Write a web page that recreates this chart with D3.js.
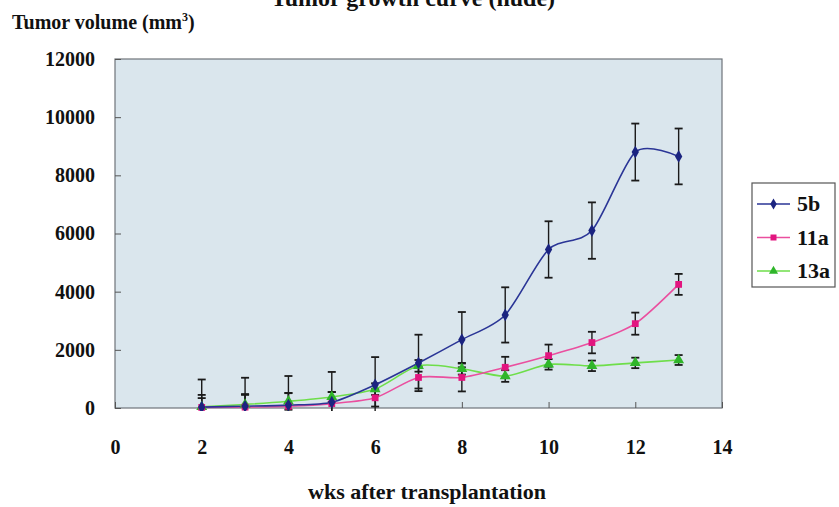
<!DOCTYPE html>
<html>
<head>
<meta charset="utf-8">
<script src="https://cdn.jsdelivr.net/npm/d3@7"></script>
<style>
  body { margin: 0; background: #fff; }
  text { font-family: "Liberation Serif", "Times New Roman", serif; font-weight: bold; fill: #111; }
</style>
</head>
<body>
<svg id="chart" width="839" height="507"></svg>
<script>
// weeks after transplantation
var weeks = [2, 3, 4, 5, 6, 7, 8, 9, 10, 11, 12, 13]
// mean tumor volume (mm3) and error per group
var vol5b   = [30, 60, 100, 200, 800, 1550, 2350, 3200, 5450, 6100, 8800, 8650]
var err5b   = [950, 980, 1000, 1040, 950, 970, 950, 950, 970, 970, 980, 960]
var vol11a  = [20, 30, 60, 150, 350, 1050, 1050, 1400, 1800, 2250, 2900, 4250]
var err11a  = [430, 450, 450, 400, 300, 380, 480, 360, 380, 370, 380, 360]
var vol13a  = [40, 120, 230, 380, 650, 1450, 1350, 1100, 1500, 1450, 1550, 1650]
var err13a  = [300, 330, 290, 170, 200, 200, 200, 200, 180, 180, 180, 170]
var xTicks = [0, 2, 4, 6, 8, 10, 12, 14]
var yTicks = [0, 2000, 4000, 6000, 8000, 10000, 12000]

var series = [
    { name: '5b',  vals: vol5b,  errs: err5b,  color: '#2a3596', mark: '#1b2480', shape: d3.symbolDiamond },
    { name: '11a', vals: vol11a, errs: err11a, color: '#ea4f9f', mark: '#e2157f', shape: d3.symbolSquare },
    { name: '13a', vals: vol13a, errs: err13a, color: '#6ede4a', mark: '#2fb52a', shape: d3.symbolTriangle }
]

var svg = d3.select('#chart')

// plot box
var box = { left: 115, right: 722, top: 59, bottom: 408 }

var x = d3.scaleLinear().domain([0, 14]).range([box.left, box.right])
var y = d3.scaleLinear().domain([0, 12000]).range([box.bottom, box.top])

// plot background
svg.append('rect')
    .attr('x', box.left).attr('y', box.top)
    .attr('width', box.right - box.left).attr('height', box.bottom - box.top)
    .attr('fill', '#dae6ed')
    .attr('stroke', '#6f747a').attr('stroke-width', 1.2)

svg.append('clipPath').attr('id', 'plotclip')
  .append('rect')
    .attr('x', box.left).attr('y', box.top - 2)
    .attr('width', box.right - box.left).attr('height', box.bottom - box.top + 5)

// title, mostly cut off at the top
svg.append('text')
    .attr('x', 413).attr('y', 6)
    .attr('text-anchor', 'middle')
    .style('font-size', '24px')
    .text('Tumor growth curve (nude)')

// y title
var yt = svg.append('text')
    .attr('x', 12).attr('y', 29)
    .style('font-size', '20px')
yt.append('tspan').text('Tumor volume (mm')
yt.append('tspan').attr('dy', -8).style('font-size', '12px').text('3')
yt.append('tspan').attr('dy', 8).text(')')

// y axis
var yAxis = d3.axisLeft(y)
    .tickValues(yTicks)
    .tickSizeInner(-6)
    .tickSizeOuter(0)
    .tickPadding(20)
    .tickFormat(d3.format('d'))

svg.append('g')
    .attr('transform', 'translate(' + box.left + ',0)')
    .call(yAxis)
    .call(g => g.select('.domain').remove())
    .call(g => g.selectAll('line').attr('stroke', '#555'))
    .call(g => g.selectAll('text').style('font-size', '20px').attr('fill', '#111'))

// x axis
var xAxis = d3.axisBottom(x)
    .tickValues(xTicks)
    .tickSizeInner(-6)
    .tickSizeOuter(0)
    .tickPadding(32)

svg.append('g')
    .attr('transform', 'translate(0,' + box.bottom + ')')
    .call(xAxis)
    .call(g => g.select('.domain').remove())
    .call(g => g.selectAll('line').attr('stroke', '#555'))
    .call(g => g.selectAll('text').style('font-size', '20px').attr('fill', '#111'))

svg.append('text')
    .attr('x', 427).attr('y', 499)
    .attr('text-anchor', 'middle')
    .style('font-size', '22px')
    .text('wks after transplantation')

var plot = svg.append('g').attr('clip-path', 'url(#plotclip)')

// error bars
series.forEach(s => {
    var eb = plot.append('g').attr('class', 'err')
    weeks.forEach((w, i) => {
        var cx = x(w)
        var hi = y(s.vals[i] + s.errs[i]), lo = y(s.vals[i] - s.errs[i])
        eb.append('line').attr('x1', cx).attr('x2', cx).attr('y1', hi).attr('y2', lo)
            .attr('stroke', '#1a1a1a').attr('stroke-width', 1.4)
        eb.append('line').attr('x1', cx - 4).attr('x2', cx + 4).attr('y1', hi).attr('y2', hi)
            .attr('stroke', '#1a1a1a').attr('stroke-width', 1.8)
        eb.append('line').attr('x1', cx - 4).attr('x2', cx + 4).attr('y1', lo).attr('y2', lo)
            .attr('stroke', '#1a1a1a').attr('stroke-width', 1.8)
    })
})

var line = d3.line()
    .x((d, i) => x(weeks[i]))
    .y(d => y(d))
    .curve(d3.curveCardinal.tension(0.2))

// lines, drawn from back to front
series.slice().reverse().forEach(s => {
    plot.append('path')
        .datum(s.vals)
        .attr('fill', 'none')
        .attr('stroke', s.color)
        .attr('stroke-width', 1.6)
        .attr('d', line)
})

series.slice().reverse().forEach(s => {
    plot.selectAll(null)
        .data(s.vals)
      .enter().append('path')
        .attr('transform', (d, i) => 'translate(' + x(weeks[i]) + ',' + y(d) + ')')
        .attr('d', d3.symbol().type(s.shape).size(s.name === '13a' ? 52 : 46))
        .attr('fill', s.mark)
})

// legend
var lg = svg.append('g').attr('transform', 'translate(752,183)')
lg.append('rect')
    .attr('width', 83).attr('height', 104)
    .attr('fill', '#fff')
    .attr('stroke', '#555').attr('stroke-width', 1.2)

series.forEach((s, i) => {
    var ly = 21 + i * 33.5
    lg.append('line')
        .attr('x1', 5).attr('x2', 38).attr('y1', ly).attr('y2', ly)
        .attr('stroke', s.color).attr('stroke-width', 1.6)
    lg.append('path')
        .attr('transform', 'translate(21.5,' + ly + ')')
        .attr('d', d3.symbol().type(s.shape).size(36))
        .attr('fill', s.mark)
    lg.append('text')
        .attr('x', 45).attr('y', ly + 7)
        .style('font-size', '22px')
        .text(s.name)
})
</script>
</body>
</html>
